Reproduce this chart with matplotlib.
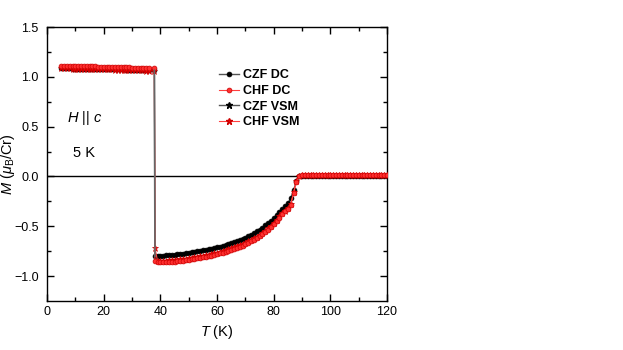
import matplotlib
matplotlib.use('Agg')
import matplotlib.pyplot as plt

plt.rcParams['font.family'] = ['Liberation Sans', 'DejaVu Sans']
plt.rcParams['mathtext.fontset'] = 'custom'
plt.rcParams['mathtext.rm'] = 'Liberation Sans'
plt.rcParams['mathtext.it'] = 'Liberation Sans:italic'

# ---- low temperature branch (5 K .. just below T_N ~ 38 K) ----
T_low = list(range(5, 37)) + [37.9]
czf_dc_low = [1.085, 1.085, 1.084, 1.084, 1.083, 1.083, 1.082, 1.082, 1.081, 1.081, 1.080,
              1.080, 1.079, 1.079, 1.078, 1.078, 1.077, 1.077, 1.076, 1.076, 1.075, 1.075,
              1.074, 1.073, 1.073, 1.072, 1.071, 1.071, 1.070, 1.069, 1.068, 1.067, 1.066]
chf_dc_low = [1.110, 1.110, 1.109, 1.109, 1.108, 1.108, 1.107, 1.107, 1.106, 1.106, 1.105,
              1.104, 1.104, 1.103, 1.102, 1.102, 1.101, 1.100, 1.099, 1.099, 1.098, 1.097,
              1.096, 1.095, 1.094, 1.093, 1.092, 1.091, 1.090, 1.089, 1.088, 1.086, 1.085]
chf_vsm_low = [1.085, 1.085, 1.084, 1.084, 1.083, 1.083, 1.082, 1.081, 1.081, 1.080, 1.080,
               1.079, 1.078, 1.078, 1.077, 1.076, 1.076, 1.075, 1.074, 1.073, 1.073, 1.072,
               1.071, 1.070, 1.069, 1.068, 1.067, 1.066, 1.065, 1.064, 1.063, 1.062, 1.060]

# ---- branch above the jump (38 K .. 120 K) ----
T_high = [38.1] + list(range(39, 121))
czf_dc_high = [-0.800, -0.800, -0.798, -0.795, -0.793, -0.790, -0.788, -0.785, -0.782, -0.779,
               -0.775, -0.771, -0.767, -0.763, -0.758, -0.753, -0.748, -0.743, -0.737, -0.731,
               -0.725, -0.718, -0.711, -0.704, -0.696, -0.688, -0.679, -0.670, -0.660, -0.649,
               -0.638, -0.626, -0.613, -0.599, -0.584, -0.568, -0.551, -0.533, -0.513, -0.492,
               -0.469, -0.444, -0.417, -0.388, -0.357, -0.330, -0.300, -0.270, -0.220, -0.140,
               -0.050, 0.000] + [0.005] * 31
chf_dc_high = [-0.850, -0.860, -0.862, -0.861, -0.860, -0.858, -0.856, -0.854, -0.851, -0.848,
               -0.845, -0.841, -0.837, -0.833, -0.828, -0.823, -0.818, -0.812, -0.806, -0.800,
               -0.794, -0.787, -0.780, -0.772, -0.764, -0.756, -0.747, -0.737, -0.727, -0.716,
               -0.705, -0.693, -0.680, -0.666, -0.651, -0.635, -0.618, -0.600, -0.580, -0.558,
               -0.534, -0.508, -0.479, -0.447, -0.413, -0.380, -0.350, -0.325, -0.290, -0.170,
               -0.060, 0.000] + [0.010] * 31
chf_vsm_high = [-0.720, -0.845, -0.847, -0.846, -0.845, -0.843, -0.841, -0.839, -0.836, -0.833,
                -0.830, -0.826, -0.822, -0.818, -0.813, -0.808, -0.803, -0.797, -0.791, -0.785,
                -0.779, -0.772, -0.765, -0.757, -0.749, -0.741, -0.732, -0.722, -0.712, -0.701,
                -0.690, -0.678, -0.665, -0.651, -0.636, -0.620, -0.603, -0.585, -0.565, -0.543,
                -0.519, -0.493, -0.465, -0.434, -0.400, -0.370, -0.345, -0.320, -0.280, -0.160,
                -0.050, 0.005] + [0.010] * 31

T = T_low + T_high
czf_dc = czf_dc_low + czf_dc_high
chf_dc = chf_dc_low + chf_dc_high
chf_vsm = chf_vsm_low + chf_vsm_high
n_low = len(T_low)

fig = plt.figure(figsize=(6.23, 3.5), dpi=100)
ax = fig.add_axes([47 / 623, 1 - 301 / 350, 340 / 623, 274 / 350])

ax.axhline(0, color='black', lw=1.0, zorder=1)

ax.plot(T, czf_dc, color='#555555', lw=1.0, marker='o', ms=3.5, mfc='black', mec='black',
        mew=0.5, label='CZF DC', zorder=2)
ax.plot(T, chf_vsm, color='#ff4040', lw=0.8, marker='*', ms=4.5, mfc='red', mec='#cc0000',
        mew=0.5, label='_nolegend_', zorder=3)
ax.plot(T, chf_dc, color='#ff4040', lw=0.8, marker='o', ms=3.5, mfc='#ff3030', mec='#cc0000',
        mew=0.5, label='CHF DC', zorder=4)
# the grey CZF jump line sits on top of the red data
ax.plot(T[n_low - 1:n_low + 1], czf_dc[n_low - 1:n_low + 1], color='#666666', lw=1.2, zorder=5)

# legend proxies for VSM series
ax.plot([], [], color='#555555', lw=1.0, marker='*', ms=4.5, mfc='black', mec='black',
        label='CZF VSM')
ax.plot([], [], color='#ff4040', lw=0.8, marker='*', ms=4.5, mfc='red', mec='#cc0000',
        label='CHF VSM')

ax.set_xlim(0, 120)
ax.set_ylim(-1.25, 1.5)
ax.set_xticks([0, 20, 40, 60, 80, 100, 120])
ax.set_xticks(range(10, 120, 20), minor=True)
ax.set_yticks([-1.0, -0.5, 0.0, 0.5, 1.0, 1.5])
ax.set_yticks([-0.75, -0.25, 0.25, 0.75, 1.25], minor=True)
ax.tick_params(which='both', direction='in', top=True, right=True, labelsize=9, width=1.0)
ax.tick_params(which='major', length=5)
ax.tick_params(which='minor', length=3)
ax.tick_params(axis='y', pad=6)
for s in ax.spines.values():
    s.set_linewidth(1.0)

ax.set_xlabel(r'$T$ (K)', fontsize=10.5)
ax.set_ylabel(r'$M$ ($\mu_{\rm B}$/Cr)', fontsize=10.5, va='center')
ax.yaxis.set_label_coords(-0.114, 0.5)

ax.text(7, 0.59, r'$H$ || $c$', fontsize=10.5, va='center')
ax.text(13, 0.24, '5 K', fontsize=10.5, ha='center', va='center')

leg = ax.legend(loc='upper left', bbox_to_anchor=(0.48, 0.878), frameon=False,
                prop={'weight': 'bold', 'size': 9}, handlelength=1.6, handletextpad=0.3,
                labelspacing=0.3, borderpad=0.2)

fig.savefig('out.png', dpi=100)
